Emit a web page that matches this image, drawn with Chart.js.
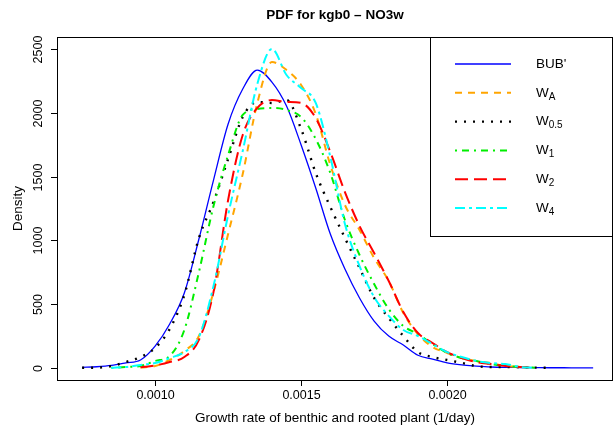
<!DOCTYPE html>
<html>
<head>
<meta charset="utf-8">
<script src="https://cdn.jsdelivr.net/npm/chart.js@4.4.1/dist/chart.umd.min.js"></script>
<style>
  html, body { margin: 0; padding: 0; background: #fff; }
  #wrap { width: 615px; height: 430px; }
</style>
</head>
<body>
<div id="wrap"><canvas id="pdfChart" width="615" height="430"></canvas></div>
<script>
// grid of growth rates (1/day) shared by every density curve
const xs = [0.00075, 0.00080, 0.00085, 0.00090, 0.00095, 0.00100, 0.00105, 0.00110, 0.00115, 0.00120,
            0.00125, 0.00130, 0.00135, 0.00140, 0.00145, 0.00150, 0.00155, 0.00160, 0.00165, 0.00170,
            0.00175, 0.00180, 0.00185, 0.00190, 0.00195, 0.00200, 0.00205, 0.00210, 0.00215, 0.00220,
            0.00225, 0.00230, 0.00235, 0.00240, 0.00245, 0.00250];

// densities (null = curve not drawn there)
const bub = [5, 10, 20, 40, 63, 172, 345, 588, 1011, 1473,
             1912, 2186, 2335, 2241, 2053, 1748, 1411, 1050, 776, 549,
             368, 250, 180, 100, 70, 40, 24, 15, 8, 5,
             4, 3, 2, 2, 1, 1];
const wA = [null, null, null, null, 3, 16, 63, 133, 251, 596,
            1050, 1520, 2077, 2398, 2335, 2218, 1991, 1591, 1277, 1082,
            862, 682, 431, 266, 165, 118, 78, 55, 39, 16,
            8, 2, null, null, null, null];
const w05 = [2, 3, 15, 47, 86, 157, 306, 572, 1019, 1301,
             1638, 1967, 2085, 2077, 2100, 1873, 1528, 1262, 1019, 784,
             549, 392, 250, 125, 86, 63, 40, 15, 8, 8,
             6, 3, 2, null, null, null];
const w1 = [null, null, 2, 8, 16, 55, 94, 298, 752, 1270,
            1669, 1983, 2030, 2038, 2022, 1967, 1795, 1528, 1160, 886,
            658, 462, 329, 266, 188, 118, 78, 55, 31, 16,
            8, 2, null, null, null, null];
const w2 = [null, null, null, null, 5, 20, 47, 86, 220, 596,
            1317, 1826, 2038, 2100, 2085, 2077, 1959, 1693, 1379, 1113,
            901, 682, 439, 274, 196, 125, 78, 47, 31, 16,
            8, 2, null, null, null, null];
const w4 = [null, null, 1, 8, 24, 39, 78, 125, 243, 643,
            1199, 1701, 2226, 2500, 2296, 2194, 2077, 1654, 1129, 799,
            556, 408, 298, 251, 188, 125, 86, 55, 39, 31,
            8, 2, null, null, null, null];

const xTicks = [0.0010, 0.0015, 0.0020];
const yTicks = [0, 500, 1000, 1500, 2000, 2500];

const FONT = 'Arial, "Liberation Sans", sans-serif';

// legend rows: main text + subscript
const series = [
  { name: "BUB'", sub: '',    data: bub, color: '#0000ff', dash: [],            width: 1.3 },
  { name: 'W',    sub: 'A',   data: wA,  color: '#ffa500', dash: [7, 6],        width: 2 },
  { name: 'W',    sub: '0.5', data: w05, color: '#000000', dash: [2, 7],        width: 2.4 },
  { name: 'W',    sub: '1',   data: w1,  color: '#00ee00', dash: [2, 5, 7, 5],  width: 2 },
  { name: 'W',    sub: '2',   data: w2,  color: '#ff0000', dash: [13, 6],       width: 2 },
  { name: 'W',    sub: '4',   data: w4,  color: '#00ffff', dash: [10, 4, 3, 4], width: 2 }
];

const toPoints = (ys) => xs.map((x, i) => ({ x, y: ys[i] })).filter(p => p.y !== null);

// box, axes, labels and legend drawn with the chart's own scales
const frame = {
  id: 'frame',
  afterDraw(chart) {
    const { ctx, chartArea: a, scales: { x, y } } = chart;
    ctx.save();
    ctx.strokeStyle = '#000';
    ctx.lineWidth = 1;
    ctx.setLineDash([]);
    ctx.strokeRect(Math.round(a.left) + 0.5, Math.round(a.top) + 0.5,
                   Math.round(a.right - a.left) - 1, Math.round(a.bottom - a.top));

    ctx.fillStyle = '#000';
    ctx.font = '12.5px ' + FONT;

    // x axis
    ctx.textAlign = 'center';
    ctx.textBaseline = 'middle';
    xTicks.forEach(v => {
      const px = Math.round(x.getPixelForValue(v)) + 0.5;
      ctx.beginPath();
      ctx.moveTo(px, a.bottom);
      ctx.lineTo(px, a.bottom + 6);
      ctx.stroke();
      ctx.fillText(v.toFixed(4), px, a.bottom + 16);
    });
    ctx.font = '13.5px ' + FONT;
    ctx.fillText('Growth rate of benthic and rooted plant (1/day)', (a.left + a.right) / 2, a.bottom + 38);

    // y axis
    ctx.font = '12.5px ' + FONT;
    yTicks.forEach(v => {
      const py = Math.round(y.getPixelForValue(v)) + 0.5;
      ctx.beginPath();
      ctx.moveTo(a.left, py);
      ctx.lineTo(a.left - 6, py);
      ctx.stroke();
      ctx.save();
      ctx.translate(a.left - 18, py);
      ctx.rotate(-Math.PI / 2);
      ctx.fillText(String(v), 0, 0);
      ctx.restore();
    });
    ctx.font = '13.5px ' + FONT;
    ctx.save();
    ctx.translate(18, (a.top + a.bottom) / 2);
    ctx.rotate(-Math.PI / 2);
    ctx.fillText('Density', 0, 0);
    ctx.restore();

    // title
    ctx.font = 'bold 13.5px ' + FONT;
    ctx.fillText('PDF for kgb0 \u2013 NO3w', (a.left + a.right) / 2, 15);

    // legend
    const lx = 430, ly = Math.round(a.top) + 0.5, lw = Math.round(a.right) - 1 - lx, lh = 199;
    ctx.fillStyle = '#fff';
    ctx.fillRect(lx + 0.5, ly, lw, lh);
    ctx.strokeRect(lx + 0.5, ly, lw, lh);
    series.forEach((s, i) => {
      const ry = 64 + i * 28.8;
      ctx.strokeStyle = s.color;
      ctx.lineWidth = s.width;
      ctx.setLineDash(s.dash);
      ctx.beginPath();
      ctx.moveTo(455, ry);
      ctx.lineTo(511, ry);
      ctx.stroke();
      ctx.setLineDash([]);
      ctx.fillStyle = '#000';
      ctx.textAlign = 'left';
      ctx.font = '13.5px ' + FONT;
      ctx.fillText(s.name, 536, ry);
      if (s.sub) {
        const w = ctx.measureText(s.name).width;
        ctx.font = '10px ' + FONT;
        ctx.fillText(s.sub, 536 + w, ry + 4);
      }
    });
    ctx.restore();
  }
};

const el = document.getElementById('pdfChart');
new Chart(el.getContext('2d'), {
  type: 'line',
  data: {
    datasets: series.map((s, i) => ({
      label: s.name + s.sub,
      data: toPoints(s.data),
      borderColor: s.color,
      borderWidth: s.width,
      borderDash: s.dash,
      pointRadius: 0,
      fill: false,
      cubicInterpolationMode: 'monotone',
      order: series.length - i
    }))
  },
  options: {
    responsive: false,
    animation: false,
    devicePixelRatio: 1,
    layout: { padding: { left: 57, top: 37, right: 2, bottom: 50 } },
    plugins: { legend: { display: false }, title: { display: false }, tooltip: { enabled: false } },
    scales: {
      x: { type: 'linear', display: false, min: 0.000664, max: 0.002568 },
      y: { type: 'linear', display: false, min: -94, max: 2594 }
    }
  },
  plugins: [frame]
});
</script>
</body>
</html>
